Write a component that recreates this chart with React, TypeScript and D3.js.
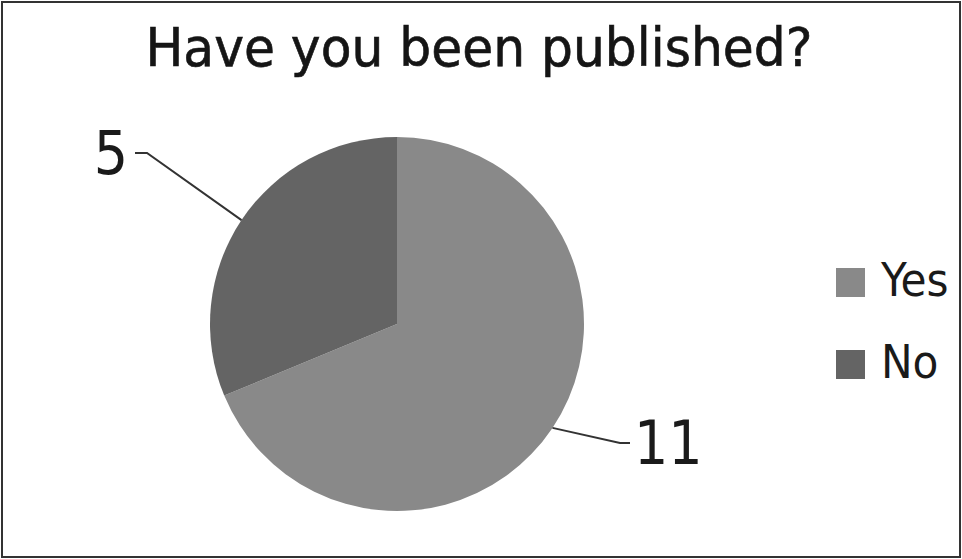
import React from "react";
import * as d3 from "d3";

const title = "Have you been published?";
const categories = ["Yes", "No"];
const values = [11, 5];
const colors = ["#898989", "#646464"];

const W = 962;
const H = 559;

export default function App() {
  const cx = 397;
  const cy = 324;
  const r = 187;
  const pie = d3.pie<number>().sort(null).startAngle(0).endAngle(2 * Math.PI)(values);
  const arc = d3.arc<d3.PieArcDatum<number>>().innerRadius(0).outerRadius(r);
  const font = "'DejaVu Sans Condensed', 'DejaVu Sans', sans-serif";

  const labelInfo = pie.map((p) => {
    const mid = (p.startAngle + p.endAngle) / 2;
    return { p, sx: Math.sin(mid), sy: -Math.cos(mid) };
  });

  return (
    <svg width={W} height={H} style={{ position: "absolute", left: 0, top: 0, background: "#fff" }}>
      <rect x={2} y={2} width={W - 4} height={H - 4} fill="#fff" stroke="#333" strokeWidth={2} />
      <text x={479} y={66} textAnchor="middle" fontFamily={font} fontSize={53} fill="#151515"
        stroke="#151515" strokeWidth={0.6}
        textLength={667} lengthAdjust="spacingAndGlyphs">{title}</text>
      <g transform={`translate(${cx},${cy})`}>
        {pie.map((p, i) => (
          <path key={i} d={arc(p) || ""} fill={colors[i]} />
        ))}
      </g>
      {labelInfo.map(({ p, sx, sy }, i) => {
        const ex = cx + sx * r;
        const ey = cy + sy * r;
        const left = sx < 0;
        const bx = left ? 147 : 620;
        const by = left ? 153 : 443;
        const tx = left ? 135 : 630;
        const lx = left ? 128 : 634;
        return (
          <g key={i}>
            <polyline points={`${ex},${ey} ${bx},${by} ${tx},${by}`} fill="none" stroke="#333" strokeWidth={2} />
            <text x={lx} y={by + 21} textAnchor={left ? "end" : "start"} fontFamily={font} fontSize={60} fill="#1a1a1a">
              {String(p.data)}
            </text>
          </g>
        );
      })}
      {categories.map((c, i) => (
        <g key={c}>
          <rect x={836} y={268 + i * 82} width={29} height={29} fill={colors[i]} />
          <text x={881} y={296 + i * 82} fontFamily={font} fontSize={47} fill="#1a1a1a">{c}</text>
        </g>
      ))}
    </svg>
  );
}
